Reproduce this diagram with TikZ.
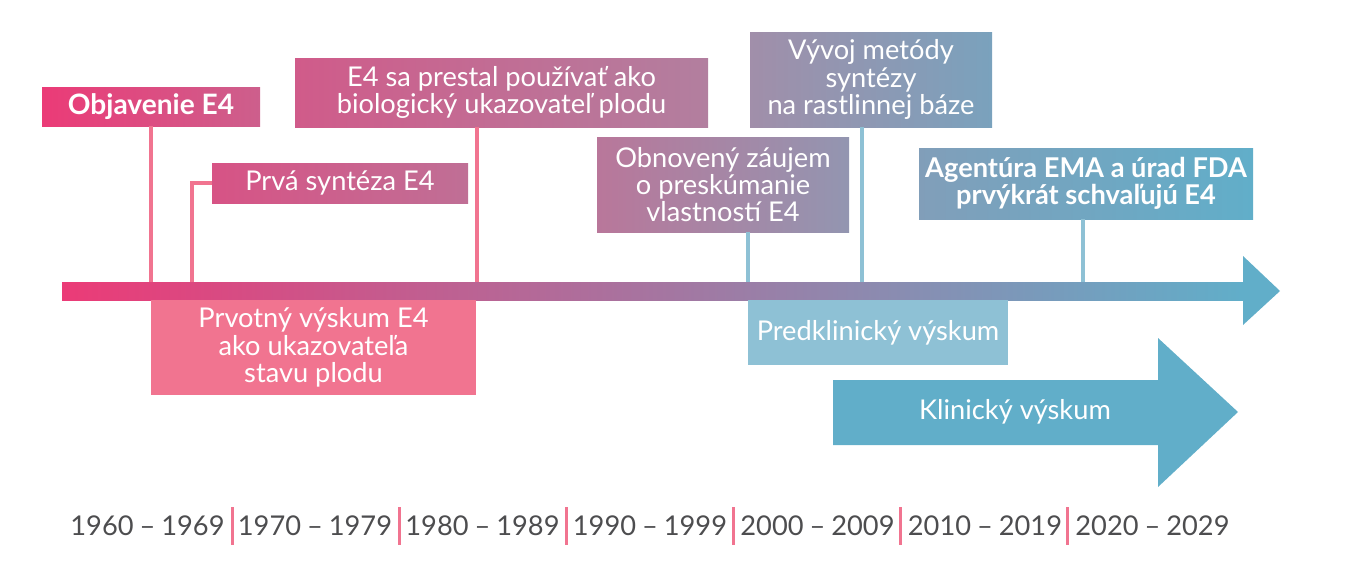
\documentclass[tikz,border=0pt]{standalone}
\usepackage{fontspec}
\setmainfont{Lato}

\definecolor{pinkhot}{HTML}{EB3B77}
\definecolor{pinksoft}{HTML}{F17490}
\definecolor{mauve}{HTML}{A88BA6}
\definecolor{teal}{HTML}{61AEC9}
\definecolor{skyline}{HTML}{8EC1D5}
\definecolor{yeargray}{HTML}{4D4D4F}

\tikzset{
  box/.style={inner sep=0pt, text=white, align=center,
              font=\fontsize{15.5}{15.6}\selectfont},
  boldbox/.style={box, font=\fontsize{15.5}{15.6}\selectfont\bfseries},
  span/.style 2 args={minimum width=#1*0.02cm, minimum height=#2*0.02cm},
  stem/.style={line width=2.3pt},
  sep/.style={line width=1.2pt, pinksoft},
}

\begin{document}
\begin{tikzpicture}[x=0.02cm, y=-0.02cm]
  \useasboundingbox (0,0) rectangle (1350,561);

  % timeline bar with head
  \path[left color=pinkhot, middle color=mauve, right color=teal]
    (62,282) rectangle (1243,300);
  \fill[teal] (1243,256) -- (1280,291) -- (1243,325) -- cycle;
  \coordinate (t1) at (151,282);
  \coordinate (t2) at (192,282);
  \coordinate (t3) at (477,282);
  \coordinate (t4) at (748,282);
  \coordinate (t5) at (862,282);
  \coordinate (t6) at (1083,282);

  % events above the bar
  \node[boldbox, span={218}{39}, left color=pinkhot, right color=pinkhot!55!mauve,
        font=\fontsize{16}{15.6}\selectfont\bfseries]
    (objav) at (151,106.5) {Objavenie E4};
  \node[box, span={256}{40}, left color=pinkhot!70!mauve, right color=pinkhot!35!mauve]
    (synt) at (340,183) {Prvá syntéza E4};
  \node[box, span={413}{69}, left color=pinkhot!60!mauve, right color=pinkhot!15!mauve]
    (marker) at (501.5,92.5) {E4 sa prestal používať ako\\biologický ukazovateľ plodu};
  \node[box, span={252}{95}, left color=pinkhot!25!mauve, right color=mauve!70!teal]
    (zaujem) at (723,184.5) {Obnovený záujem\\o preskúmanie\\vlastností E4};
  \node[box, span={242}{95}, left color=mauve!90!teal, right color=mauve!35!teal]
    (vyvoj) at (871,79.5) {Vývoj metódy\\syntézy\\na rastlinnej báze};
  \node[boldbox, span={334}{71}, left color=mauve!45!teal, right color=teal]
    (schval) at (1086,183.5) {Agentúra EMA a úrad FDA\\prvýkrát schvaľujú E4};

  % stems down to the bar
  \draw[stem, pinksoft] (objav.south -| t1) -- (t1);
  \draw[stem, pinksoft] (synt.west) -| (t2);
  \draw[stem, pinksoft] (marker.south -| t3) -- (t3);
  \draw[stem, skyline] (zaujem.south -| t4) -- (t4);
  \draw[stem, skyline] (vyvoj.south -| t5) -- (t5);
  \draw[stem, skyline] (schval.south -| t6) -- (t6);

  % research phases below the bar
  \node[box, span={325}{95}, fill=pinksoft]
    (prvotny) at (313.5,347.5) {Prvotný výskum E4\\ako ukazovateľa\\stavu plodu};
  \node[box, span={260}{65}, fill=skyline]
    (predklin) at (878,332.5) {Predklinický výskum};
  \fill[teal] (833,380) -- (1158,380) -- (1158,338) -- (1238,412)
    -- (1158,487) -- (1158,445) -- (833,445) -- cycle;
  \node[box] (klin) at (1015,412) {Klinický výskum};

  % decades
  \foreach \yr [count=\i from 0] in {1960,1970,1980,1990,2000,2010,2020} {
    \pgfmathtruncatemacro{\yrend}{\yr+9}
    \node[text=yeargray, font=\fontsize{15.5}{18}\selectfont] (dec\i)
      at (147.5+167.5*\i,526) {\yr\hspace{0.22em}–\hspace{0.22em}\yrend};
  }
  \foreach \i in {0,...,5}
    \draw[sep] (232.5+167*\i,507) -- (232.5+167*\i,545);
\end{tikzpicture}
\end{document}
